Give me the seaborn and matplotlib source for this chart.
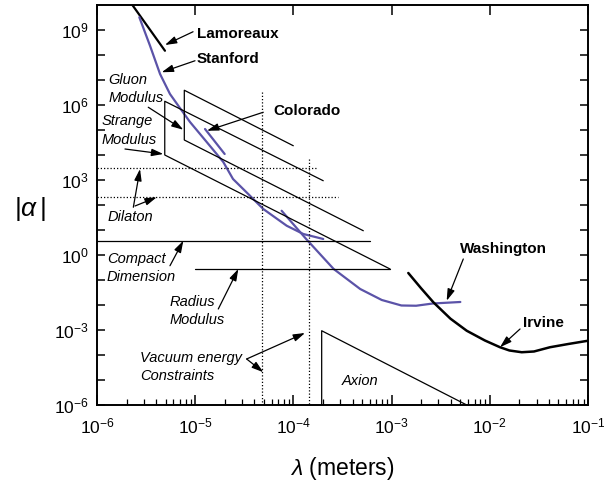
import numpy as np
import pandas as pd
import matplotlib
matplotlib.use('Agg')
import matplotlib.pyplot as plt
import seaborn as sns
from matplotlib.ticker import FixedLocator, FixedFormatter, NullLocator, LogLocator

# Values, stored as log10(lambda / m) and log10|alpha|
lamoreaux_x = [-5.647, -5.308]
lamoreaux_y = [10.04, 8.17]

stanford_x = [-5.569, -5.46, -5.358, -5.257, -5.172, -5.053, -4.883, -4.714,
              -4.615, -4.442, -4.307, -4.068, -3.899, -3.696]
stanford_y = [9.51, 8.37, 7.24, 6.44, 5.97, 5.32, 4.52, 3.72,
              3.04, 2.37, 1.84, 1.17, 0.84, 0.64]

colorado_x = [-4.90, -4.70]
colorado_y = [5.04, 4.04]

washington_x = [-4.12, -3.87, -3.59, -3.32, -3.10, -2.90, -2.75, -2.58, -2.30]
washington_y = [1.77, 0.64, -0.56, -1.36, -1.80, -2.02, -2.03, -1.94, -1.88]

irvine_x = [-2.83, -2.70, -2.575, -2.40, -2.235, -2.05, -1.896, -1.80, -1.675,
            -1.55, -1.387, -1.20, -1.0]
irvine_y = [-0.72, -1.33, -1.89, -2.55, -3.03, -3.42, -3.69, -3.82, -3.89,
            -3.86, -3.69, -3.56, -3.43]

# theory regions
gluon_x = [-4.001, -5.111, -5.111, -3.288]
gluon_y = [4.37, 6.59, 4.60, 0.97]
strange_x = [-3.696, -5.31, -5.31, -3.016]
strange_y = [2.97, 6.15, 4.00, -0.56]
dilaton_y = [3.48, 2.31]
dilaton_end = [-3.763, -3.543]
compact_y = 0.57
compact_end = -3.22
radius_y = -0.56
radius_x = [-5.002, -3.016]
vacuum_x = [-4.317, -3.838]
vacuum_top = [6.51, 3.84]
axion_x = [-3.712, -3.712, -2.235]
axion_y = [-6.0, -3.03, -6.0]

curves = {
    'Lamoreaux': (lamoreaux_x, lamoreaux_y, 'black', 1.6),
    'Stanford': (stanford_x, stanford_y, '#5b53a8', 1.6),
    'Colorado': (colorado_x, colorado_y, '#5b53a8', 1.6),
    'Washington': (washington_x, washington_y, '#5b53a8', 1.6),
    'Irvine': (irvine_x, irvine_y, 'black', 1.8),
}

sns.set_style('ticks', {'axes.edgecolor': 'black', 'text.color': 'black',
                        'xtick.color': 'black', 'ytick.color': 'black'})
plt.rcParams['font.family'] = ['Liberation Sans', 'DejaVu Sans']
plt.rcParams['mathtext.fontset'] = 'custom'
plt.rcParams['mathtext.rm'] = 'Liberation Sans'
plt.rcParams['mathtext.it'] = 'Liberation Sans:italic'
plt.rcParams['mathtext.bf'] = 'Liberation Sans:bold'

fig = plt.figure(figsize=(6.04, 4.86), dpi=100)
ax = fig.add_axes([0.1606, 0.1667, 0.8129, 0.8230])
ax.set_xscale('log')
ax.set_yscale('log')

p = lambda v: 10.0 ** np.asarray(v, dtype=float)

for name, (xs, ys, col, lw) in curves.items():
    df = pd.DataFrame({'lam': p(xs), 'alpha': p(ys)})
    sns.lineplot(data=df, x='lam', y='alpha', sort=False, estimator=None,
                 color=col, lw=lw, ax=ax)

thin = dict(color='black', lw=0.9)
dots = dict(color='black', lw=0.9, ls=(0, (1, 1.6)))

ax.plot(p(gluon_x), p(gluon_y), **thin)
ax.plot(p(strange_x), p(strange_y), **thin)
for yv, xe in zip(dilaton_y, dilaton_end):
    ax.plot(p([-6, xe]), p([yv, yv]), **dots)
ax.plot(p([-6, compact_end]), p([compact_y, compact_y]), **thin)
ax.plot(p(radius_x), p([radius_y, radius_y]), **thin)
for xv, yt in zip(vacuum_x, vacuum_top):
    ax.plot(p([xv, xv]), p([yt, -6]), **dots)
ax.plot(p(axion_x), p(axion_y), **thin)

ax.set_xlim(1e-6, 1e-1)
ax.set_ylim(1e-6, 1e10)

bold = dict(fontsize=11, fontweight='bold', ha='left', va='center')
ital = dict(fontsize=10.5, style='italic', ha='left', va='center')
ax.text(p(-4.982), p(8.84), 'Lamoreaux', **bold)
ax.text(p(-4.982), p(7.84), 'Stanford', **bold)
ax.text(p(-4.208), p(5.77), 'Colorado', **bold)
ax.text(p(-2.303), p(0.24), 'Washington', **bold)
ax.text(p(-1.665), p(-2.72), 'Irvine', **bold)
ax.text(p(-5.885), p(7.01), 'Gluon', **ital)
ax.text(p(-5.885), p(6.27), 'Modulus', **ital)
ax.text(p(-5.952), p(5.37), 'Strange', **ital)
ax.text(p(-5.952), p(4.60), 'Modulus', **ital)
ax.text(p(-5.888), p(1.53), 'Dilaton', **ital)
ax.text(p(-5.901), p(-0.16), 'Compact', **ital)
ax.text(p(-5.901), p(-0.89), 'Dimension', **ital)
ax.text(p(-5.257), p(-1.87), 'Radius', **ital)
ax.text(p(-5.257), p(-2.60), 'Modulus', **ital)
ax.text(p(-5.562), p(-4.13), 'Vacuum energy', **ital)
ax.text(p(-5.562), p(-4.85), 'Constraints', **ital)
ax.text(p(-3.508), p(-5.03), 'Axion', **ital)

arrows = [
    ((-5.022, 8.93), (-5.308, 8.40)),
    ((-5.002, 7.77), (-5.341, 7.31)),
    ((-4.307, 5.71), (-4.880, 4.97)),
    ((-5.478, 5.91), (-5.121, 5.01)),
    ((-5.715, 4.24), (-5.325, 4.04)),
    ((-5.630, 1.91), (-5.562, 3.44)),
    ((-5.613, 1.96), (-5.392, 2.31)),
    ((-5.257, -0.43), (-5.121, 0.57)),
    ((-4.765, -2.16), (-4.561, -0.56)),
    ((-4.476, -4.16), (-3.882, -3.12)),
    ((-4.476, -4.16), (-4.306, -4.69)),
    ((-2.270, -0.16), (-2.439, -1.83)),
    ((-1.692, -2.96), (-1.896, -3.69)),
]
for (tx, ty), (hx, hy) in arrows:
    ax.annotate('', xy=(p(hx), p(hy)), xytext=(p(tx), p(ty)),
                arrowprops=dict(arrowstyle='-|>,head_length=0.7,head_width=0.22',
                                color='black', lw=0.9, shrinkA=0, shrinkB=0,
                                mutation_scale=10))

# ticks
xt = [-6, -5, -4, -3, -2, -1]
ax.xaxis.set_major_locator(FixedLocator(p(xt)))
ax.xaxis.set_major_formatter(FixedFormatter([r'$10^{%d}$' % e for e in xt]))
ax.xaxis.set_minor_locator(LogLocator(base=10, subs=np.arange(2, 10), numticks=20))
yt = list(range(-6, 10))
ax.yaxis.set_major_locator(FixedLocator(p(yt)))
ax.yaxis.set_major_formatter(FixedFormatter([r'$10^{%d}$' % e if e % 3 == 0 else '' for e in yt]))
ax.yaxis.set_minor_locator(NullLocator())

ax.tick_params(which='major', direction='in', length=6, width=1.1,
               top=True, right=True, labelsize=12.5, pad=6,
               colors='black')
ax.tick_params(axis='x', which='major', length=7, pad=8)
ax.tick_params(which='minor', direction='in', length=4, width=0.9,
               top=False, right=False, colors='black')
for s in ax.spines.values():
    s.set_linewidth(1.4)
    s.set_color('black')

ax.set_xlabel(r'$\lambda$ (meters)', fontsize=16.5, color='black')
ax.set_ylabel(r'$|\alpha\,|$', fontsize=19, rotation=0, va='center', color='black')
ax.xaxis.set_label_coords(0.5, -0.125)
ax.yaxis.set_label_coords(-0.137, 0.49)

fig.savefig('out.png', dpi=100)
